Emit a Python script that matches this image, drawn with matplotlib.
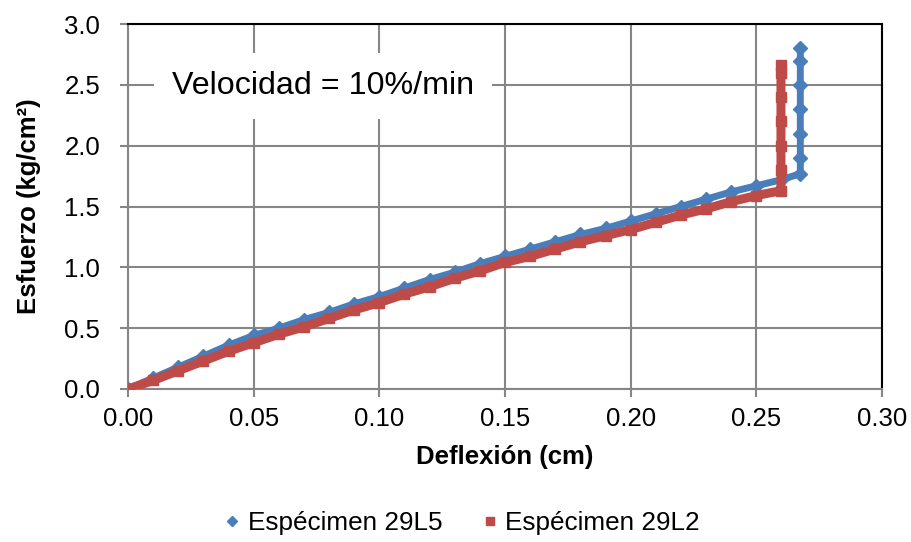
import matplotlib
matplotlib.use("Agg")
import matplotlib.pyplot as plt
from matplotlib.lines import Line2D

plt.rcParams['font.family'] = ['Liberation Sans', 'DejaVu Sans']

# Espécimen 29L5 (blue)
x_29L5 = [0.00, 0.01, 0.02, 0.03, 0.04, 0.05, 0.06, 0.07, 0.08, 0.09, 0.10,
          0.11, 0.12, 0.13, 0.14, 0.15, 0.16, 0.17, 0.18, 0.19, 0.20,
          0.21, 0.22, 0.23, 0.24, 0.25, 0.26, 0.2675,
          0.2675, 0.2675, 0.2675, 0.2675, 0.2675, 0.2675]
y_29L5 = [0.00, 0.09, 0.18, 0.27, 0.36, 0.44, 0.50, 0.57, 0.63, 0.70, 0.76,
          0.83, 0.90, 0.96, 1.03, 1.09, 1.15, 1.21, 1.27, 1.32, 1.38,
          1.44, 1.50, 1.56, 1.62, 1.67, 1.72, 1.77,
          1.90, 2.10, 2.30, 2.50, 2.70, 2.80]

# Espécimen 29L2 (red)
x_29L2 = [0.00, 0.01, 0.02, 0.03, 0.04, 0.05, 0.06, 0.07, 0.08, 0.09, 0.10,
          0.11, 0.12, 0.13, 0.14, 0.15, 0.16, 0.17, 0.18, 0.19, 0.20,
          0.21, 0.22, 0.23, 0.24, 0.25, 0.2598,
          0.2598, 0.2598, 0.2598, 0.2598, 0.2598, 0.2598]
y_29L2 = [0.00, 0.07, 0.15, 0.23, 0.31, 0.38, 0.45, 0.51, 0.58, 0.65, 0.71,
          0.78, 0.84, 0.91, 0.97, 1.04, 1.09, 1.15, 1.21, 1.26, 1.31,
          1.37, 1.43, 1.48, 1.54, 1.59, 1.63,
          1.80, 2.00, 2.20, 2.40, 2.60, 2.66]

x_ticks = [0.00, 0.05, 0.10, 0.15, 0.20, 0.25, 0.30]
y_ticks = [0.0, 0.5, 1.0, 1.5, 2.0, 2.5, 3.0]

blue = '#4A7EBB'
red = '#BE4B48'
grid_c = '#868686'

fig = plt.figure(figsize=(9.11, 5.42), dpi=100)
ax = fig.add_axes([128/911, 1-389/542, (882-128)/911, (389-24)/542])

ax.plot(x_29L5, y_29L5, color=blue, lw=5, marker='D', ms=7,
        solid_joinstyle='miter', zorder=3)
ax.plot(x_29L2, y_29L2, color=red, lw=6.5, marker='s', ms=6.5,
        solid_joinstyle='miter', zorder=4)

ax.set_xlim(0, 0.30)
ax.set_ylim(0, 3.0)
ax.set_xticks(x_ticks)
ax.set_yticks(y_ticks)
ax.set_xticklabels([f"{v:.2f}" for v in x_ticks])
ax.set_yticklabels([f"{v:.1f}" for v in y_ticks])
ax.grid(True, color=grid_c, lw=1.5)
ax.set_axisbelow(True)

for s in ['left', 'bottom']:
    ax.spines[s].set_color(grid_c)
    ax.spines[s].set_linewidth(1.5)
for s in ['top', 'right']:
    ax.spines[s].set_color('black')
    ax.spines[s].set_linewidth(1.5)

ax.tick_params(axis='both', direction='out', length=6, width=1.5,
               color=grid_c, labelsize=18.5)
ax.tick_params(axis='y', pad=14)
ax.tick_params(axis='x', pad=7)

ax.set_xlabel('Deflexión (cm)', fontsize=18.5, fontweight='bold', labelpad=10)
ax.set_ylabel('Esfuerzo (kg/cm²)', fontsize=18.5, fontweight='bold', labelpad=17)

ax.text(0.0775, 2.49, 'Velocidad = 10%/min', fontsize=23.2, ha='center', va='center',
        bbox=dict(facecolor='white', edgecolor='none', pad=13), zorder=5)

handles = [Line2D([], [], color=blue, marker='D', ls='none', ms=5),
           Line2D([], [], color=red, marker='s', ls='none', ms=6)]
fig.legend(handles, ['Espécimen 29L5', 'Espécimen 29L2'], loc='center',
           bbox_to_anchor=(0.5075, 0.035), ncol=2, frameon=False, fontsize=18.8,
           handlelength=0.6, handletextpad=0.3, columnspacing=1.5)

fig.savefig('out.png', dpi=100)
